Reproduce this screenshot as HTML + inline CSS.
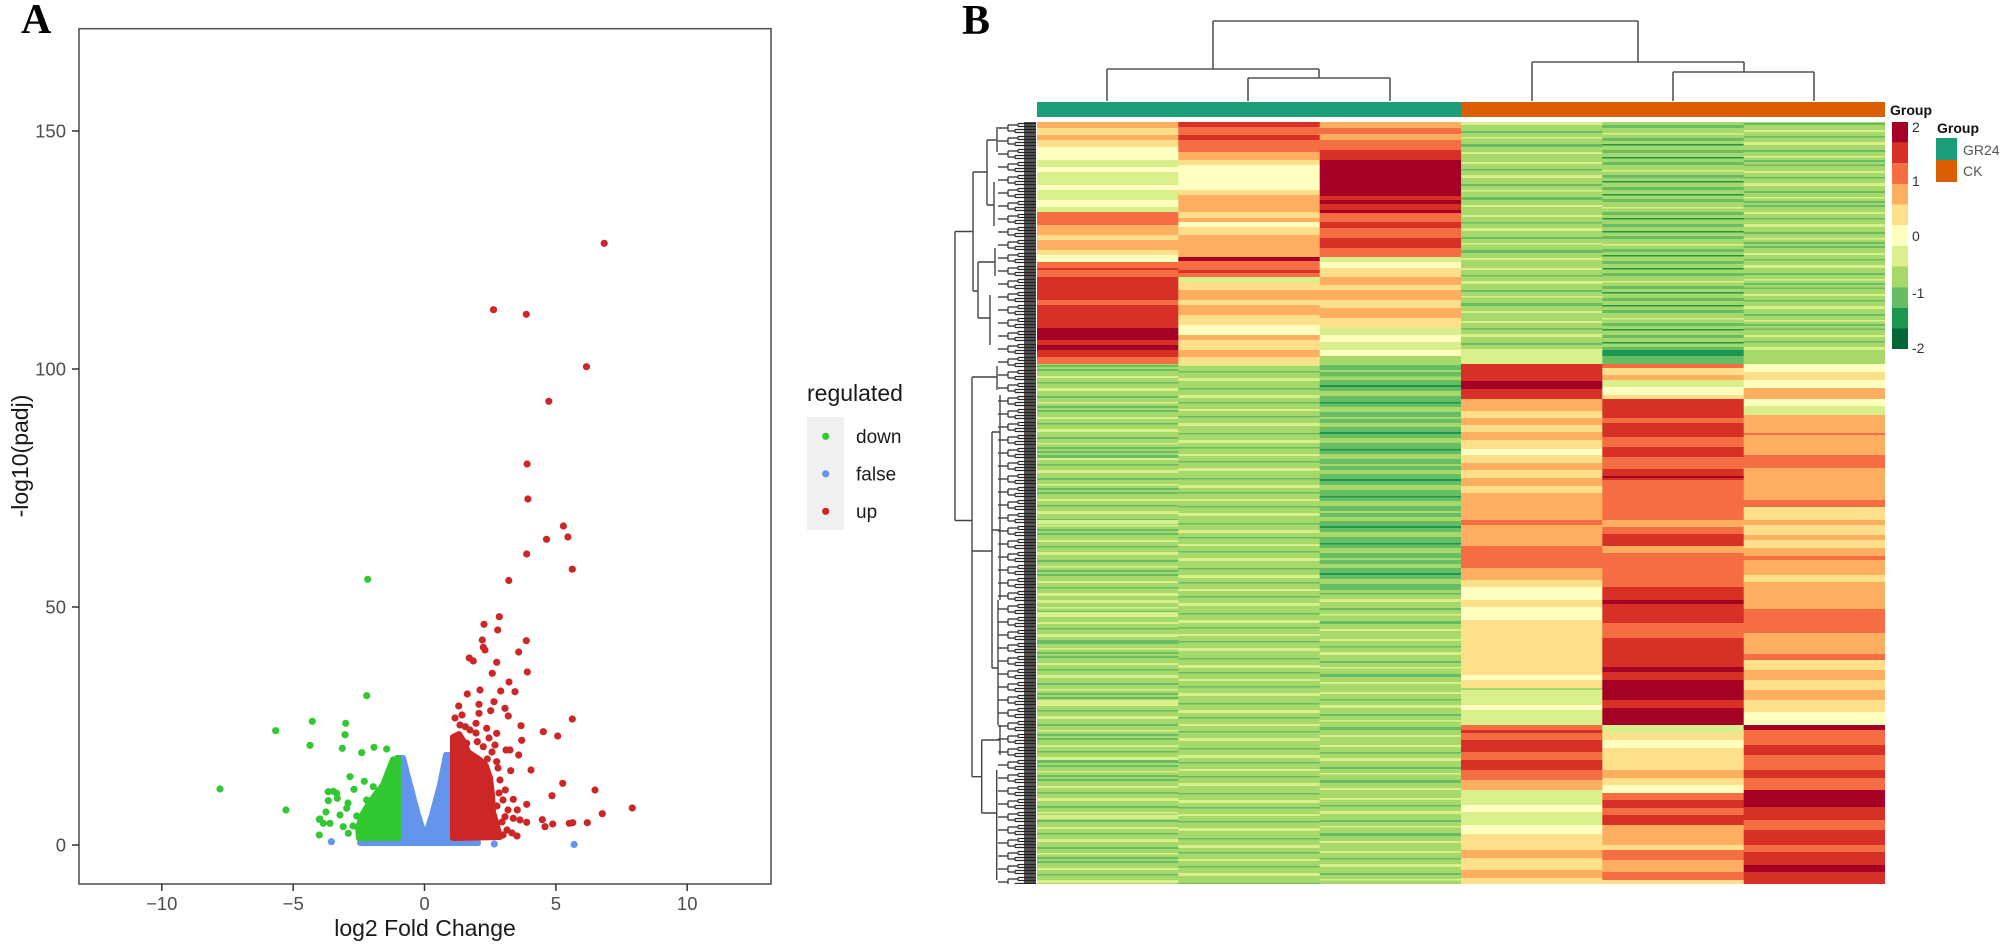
<!DOCTYPE html>
<html><head><meta charset="utf-8"><style>
html,body{margin:0;padding:0;background:#fff}
svg{display:block}
.a{fill:#A50026}.b{fill:#D73027}.c{fill:#F46D43}.d{fill:#FDAE61}.e{fill:#FEE08B}.f{fill:#FFFFBF}.g{fill:#D9EF8B}.h{fill:#A6D96A}.i{fill:#66BD63}.j{fill:#1A9850}.k{fill:#006837}
text{font-family:"Liberation Sans",Arial,sans-serif}
</style></head><body>
<svg width="2008" height="946" viewBox="0 0 2008 946" xmlns="http://www.w3.org/2000/svg">
<defs>
<pattern id="pG1" patternUnits="userSpaceOnUse" x="0" y="0" width="2008" height="41">
<rect width="2008" height="41" fill="#A6D96A"/><rect y="0" width="2008" height="2" fill="#66BD63"/><rect y="7" width="2008" height="2" fill="#D9EF8B"/><rect y="13" width="2008" height="1.5" fill="#66BD63"/><rect y="19" width="2008" height="3" fill="#D9EF8B"/><rect y="27" width="2008" height="2" fill="#66BD63"/><rect y="33" width="2008" height="1.5" fill="#D9EF8B"/><rect y="37" width="2008" height="2" fill="#66BD63"/>
</pattern>
<pattern id="pG2" patternUnits="userSpaceOnUse" x="0" y="0" width="2008" height="53">
<rect width="2008" height="53" fill="#A6D96A"/><rect y="3" width="2008" height="2" fill="#D9EF8B"/><rect y="10" width="2008" height="1.5" fill="#66BD63"/><rect y="16" width="2008" height="3" fill="#D9EF8B"/><rect y="25" width="2008" height="2" fill="#66BD63"/><rect y="31" width="2008" height="1.5" fill="#D9EF8B"/><rect y="38" width="2008" height="3" fill="#66BD63"/><rect y="46" width="2008" height="2" fill="#D9EF8B"/>
</pattern>
<pattern id="pG3" patternUnits="userSpaceOnUse" x="0" y="0" width="2008" height="47">
<rect width="2008" height="47" fill="#66BD63"/><rect y="0" width="2008" height="4" fill="#A6D96A"/><rect y="9" width="2008" height="2" fill="#1A9850"/><rect y="15" width="2008" height="5" fill="#A6D96A"/><rect y="26" width="2008" height="1.5" fill="#1A9850"/><rect y="31" width="2008" height="5" fill="#A6D96A"/><rect y="41" width="2008" height="2" fill="#A6D96A"/>
</pattern>
<pattern id="pG4" patternUnits="userSpaceOnUse" x="0" y="0" width="2008" height="37">
<rect width="2008" height="37" fill="#A6D96A"/><rect y="2" width="2008" height="3" fill="#66BD63"/><rect y="9" width="2008" height="1.5" fill="#1A9850"/><rect y="14" width="2008" height="3" fill="#66BD63"/><rect y="22" width="2008" height="1.5" fill="#D9EF8B"/><rect y="27" width="2008" height="3" fill="#66BD63"/><rect y="33" width="2008" height="1.5" fill="#1A9850"/>
</pattern>
<pattern id="pG5" patternUnits="userSpaceOnUse" x="0" y="0" width="2008" height="45">
<rect width="2008" height="45" fill="#A6D96A"/><rect y="4" width="2008" height="2" fill="#D9EF8B"/><rect y="11" width="2008" height="1.5" fill="#66BD63"/><rect y="18" width="2008" height="3" fill="#D9EF8B"/><rect y="28" width="2008" height="1.5" fill="#66BD63"/><rect y="35" width="2008" height="3" fill="#D9EF8B"/><rect y="42" width="2008" height="1.5" fill="#66BD63"/>
</pattern>
<pattern id="comb" patternUnits="userSpaceOnUse" x="998" y="122" width="38" height="13">
<path d="M20,1.5H38M20,4.5H38M17,7.5H38M17,10.5H38M20,1.5V4.5M17,7.5V10.5M10,3H20M10,9H17M10,3V9M0,6H10" stroke="#2a2a2a" stroke-width="1.2" fill="none"/>
</pattern>
</defs>

<!-- ================= PANEL A ================= -->
<text x="21" y="33" style="font-family:'Liberation Serif',serif" font-weight="bold" font-size="42" fill="#000">A</text>
<rect x="79" y="28.7" width="692" height="855.3" fill="#fff" stroke="#555" stroke-width="1.6"/>

<path d="M72,845H79M72,607H79M72,369H79M72,131H79M161.8,884V891M293.2,884V891M424.5,884V891M555.9,884V891M687.2,884V891" stroke="#333" stroke-width="1.5"/>
<g font-size="18.5" fill="#4d4d4d" text-anchor="end">
<text x="66" y="851.5">0</text><text x="66" y="613.5">50</text><text x="66" y="375.5">100</text><text x="66" y="137.5">150</text>
</g>
<g font-size="18.5" fill="#4d4d4d" text-anchor="middle">
<text x="161.8" y="910">−10</text><text x="293.2" y="910">−5</text><text x="424.5" y="910">0</text><text x="555.9" y="910">5</text><text x="687.2" y="910">10</text>
</g>
<text x="425" y="936" font-size="23" fill="#1a1a1a" text-anchor="middle">log2 Fold Change</text>
<text transform="translate(28,456) rotate(-90)" font-size="23" fill="#1a1a1a" text-anchor="middle">-log10(padj)</text>

<!-- dense regions -->
<path d="M397,758 L403,758 L410,785 L418,815 L425,837 L432,815 L440,785 L446,755 L451,755 L451,838 L477,838 L478,843 L360,843 L361,838 L397,838 Z" fill="#6495ED" stroke="#6495ED" stroke-width="6" stroke-linejoin="round"/>
<path d="M398,758 L392,762 L388,772 L383,785 L375,795 L368,805 L362,815 L358,828 L359,838 L398,838 Z" fill="#32C832" stroke="#32C832" stroke-width="6" stroke-linejoin="round"/>
<path d="M453,737 L459,734 L464,742 L468,752 L474,756 L480,760 L486,766 L490,778 L492,795 L493,812 L497,826 L500,837 L453,838 Z" fill="#CD2626" stroke="#CD2626" stroke-width="6" stroke-linejoin="round"/>

<g fill="#6495ED">
<circle cx="331.4" cy="841.7" r="3.6"/><circle cx="494.3" cy="844" r="3.6"/><circle cx="574.1" cy="844.5" r="3.6"/>
</g>
<g fill="#32C832">
<circle cx="220" cy="789" r="3.6"/><circle cx="367.7" cy="579.3" r="3.6"/><circle cx="366.7" cy="695.7" r="3.6"/>
<circle cx="275.7" cy="730.7" r="3.6"/><circle cx="312.3" cy="721.3" r="3.6"/><circle cx="310" cy="745.3" r="3.6"/>
<circle cx="345.7" cy="723.3" r="3.6"/><circle cx="345" cy="734.7" r="3.6"/><circle cx="342.3" cy="748.3" r="3.6"/>
<circle cx="361.7" cy="752.7" r="3.6"/><circle cx="374" cy="747.3" r="3.6"/><circle cx="386.7" cy="749" r="3.6"/>
<circle cx="286" cy="810" r="3.6"/><circle cx="350" cy="776.7" r="3.6"/><circle cx="364.3" cy="781.3" r="3.6"/>
<circle cx="333.3" cy="791.3" r="3.6"/><circle cx="336.7" cy="793.3" r="3.6"/><circle cx="328.3" cy="800.7" r="3.6"/>
<circle cx="337.3" cy="798.3" r="3.6"/><circle cx="346.7" cy="808.3" r="3.6"/><circle cx="354" cy="789.3" r="3.6"/>
<circle cx="356.7" cy="816" r="3.6"/><circle cx="319.3" cy="819.3" r="3.6"/><circle cx="323.3" cy="823.3" r="3.6"/>
<circle cx="330" cy="823.3" r="3.6"/><circle cx="319.3" cy="835" r="3.6"/><circle cx="343.3" cy="826.7" r="3.6"/>
<circle cx="348.3" cy="833.3" r="3.6"/><circle cx="366.7" cy="800" r="3.6"/><circle cx="373.3" cy="786.7" r="3.6"/>
<circle cx="380" cy="793.3" r="3.6"/><circle cx="370" cy="813.3" r="3.6"/><circle cx="376.7" cy="806.7" r="3.6"/>
<circle cx="386.7" cy="780" r="3.6"/><circle cx="393.3" cy="760" r="3.6"/><circle cx="390" cy="773.3" r="3.6"/>
<circle cx="328.2" cy="791.7" r="3.6"/><circle cx="348" cy="803" r="3.6"/><circle cx="320" cy="819" r="3.6"/>
<circle cx="340" cy="815" r="3.6"/><circle cx="326" cy="812" r="3.6"/><circle cx="353" cy="826" r="3.6"/>
</g>
<g fill="#CD2626">
<circle cx="604.2" cy="243.3" r="3.6"/><circle cx="493.5" cy="309.7" r="3.6"/><circle cx="526.3" cy="314.3" r="3.6"/>
<circle cx="586.5" cy="366.7" r="3.6"/><circle cx="548.8" cy="401.3" r="3.6"/><circle cx="527.1" cy="464" r="3.6"/>
<circle cx="527.9" cy="499" r="3.6"/><circle cx="563.4" cy="526" r="3.6"/><circle cx="567.9" cy="537" r="3.6"/>
<circle cx="546.5" cy="539.3" r="3.6"/><circle cx="526.7" cy="554" r="3.6"/><circle cx="572.3" cy="569.2" r="3.6"/>
<circle cx="508.8" cy="580.5" r="3.6"/><circle cx="499.3" cy="616.7" r="3.6"/><circle cx="484" cy="624.3" r="3.6"/>
<circle cx="497.7" cy="630" r="3.6"/><circle cx="482.3" cy="640" r="3.6"/><circle cx="483.3" cy="647.3" r="3.6"/>
<circle cx="485" cy="650" r="3.6"/><circle cx="526.3" cy="640.7" r="3.6"/><circle cx="518.7" cy="652" r="3.6"/>
<circle cx="469.3" cy="658" r="3.6"/><circle cx="473.3" cy="661" r="3.6"/><circle cx="496.7" cy="662.3" r="3.6"/>
<circle cx="492.3" cy="673.3" r="3.6"/><circle cx="527.3" cy="672" r="3.6"/><circle cx="509" cy="682" r="3.6"/>
<circle cx="480" cy="690" r="3.6"/><circle cx="500.7" cy="691" r="3.6"/><circle cx="515" cy="691.7" r="3.6"/>
<circle cx="467.3" cy="694" r="3.6"/><circle cx="494" cy="701.7" r="3.6"/><circle cx="479" cy="704.3" r="3.6"/>
<circle cx="458.7" cy="706" r="3.6"/><circle cx="505" cy="708.3" r="3.6"/><circle cx="479" cy="713.3" r="3.6"/>
<circle cx="490.7" cy="710.7" r="3.6"/><circle cx="508.3" cy="716" r="3.6"/><circle cx="572.3" cy="719" r="3.6"/>
<circle cx="476" cy="723.3" r="3.6"/><circle cx="465.3" cy="726.7" r="3.6"/><circle cx="486.7" cy="728.3" r="3.6"/>
<circle cx="496.7" cy="733.3" r="3.6"/><circle cx="521" cy="725.7" r="3.6"/><circle cx="543.3" cy="731.7" r="3.6"/>
<circle cx="557.7" cy="736" r="3.6"/><circle cx="521.7" cy="740.3" r="3.6"/><circle cx="477.3" cy="741.7" r="3.6"/>
<circle cx="466.7" cy="743.3" r="3.6"/><circle cx="483.3" cy="746.7" r="3.6"/><circle cx="506" cy="750" r="3.6"/>
<circle cx="510" cy="750" r="3.6"/><circle cx="518.7" cy="755" r="3.6"/><circle cx="487.3" cy="759" r="3.6"/>
<circle cx="496.7" cy="761.7" r="3.6"/><circle cx="531" cy="770" r="3.6"/><circle cx="510.7" cy="770.7" r="3.6"/>
<circle cx="562.7" cy="783.3" r="3.6"/><circle cx="595" cy="790" r="3.6"/><circle cx="505.3" cy="790" r="3.6"/>
<circle cx="552" cy="795.7" r="3.6"/><circle cx="513.3" cy="799.3" r="3.6"/><circle cx="526.7" cy="804.3" r="3.6"/>
<circle cx="517.3" cy="810" r="3.6"/><circle cx="632.3" cy="808" r="3.6"/><circle cx="602.3" cy="813.7" r="3.6"/>
<circle cx="505" cy="816.7" r="3.6"/><circle cx="513.3" cy="818.3" r="3.6"/><circle cx="520" cy="820" r="3.6"/>
<circle cx="526.7" cy="822.3" r="3.6"/><circle cx="542.3" cy="819.7" r="3.6"/><circle cx="545" cy="826.7" r="3.6"/>
<circle cx="552.7" cy="824" r="3.6"/><circle cx="569.3" cy="823.3" r="3.6"/><circle cx="572.7" cy="822.7" r="3.6"/>
<circle cx="587.3" cy="822.7" r="3.6"/><circle cx="500" cy="780" r="3.6"/><circle cx="503" cy="800" r="3.6"/>
<circle cx="498" cy="768" r="3.6"/><circle cx="507" cy="830" r="3.6"/><circle cx="512" cy="833" r="3.6"/>
<circle cx="517" cy="836" r="3.6"/><circle cx="495" cy="745" r="3.6"/><circle cx="489" cy="738" r="3.6"/>
<circle cx="470" cy="730" r="3.6"/><circle cx="460" cy="725" r="3.6"/><circle cx="455" cy="718" r="3.6"/>
<circle cx="502" cy="822" r="3.6"/><circle cx="508" cy="810" r="3.6"/><circle cx="462" cy="715" r="3.6"/>
<circle cx="499" cy="793" r="3.6"/><circle cx="497" cy="806" r="3.6"/><circle cx="503" cy="835" r="3.6"/>
<circle cx="492" cy="752" r="3.6"/><circle cx="476" cy="733" r="3.6"/>
</g>

<text x="807" y="401" font-size="23" fill="#1a1a1a">regulated</text>
<rect x="807" y="417" width="37" height="113" fill="#F0F0F0"/>
<circle cx="825.7" cy="436.3" r="3.6" fill="#32C832"/>
<circle cx="825.7" cy="473.8" r="3.6" fill="#6495ED"/>
<circle cx="825.7" cy="511.3" r="3.6" fill="#CD2626"/>
<g font-size="19" fill="#1a1a1a">
<text x="856" y="443">down</text><text x="856" y="480.5">false</text><text x="856" y="518">up</text>
</g>

<!-- ================= PANEL B ================= -->
<text x="962" y="34" style="font-family:'Liberation Serif',serif" font-weight="bold" font-size="42" fill="#000">B</text>

<path d="M1213,21H1638M1213,21V69M1638,21V62M1107,69H1319M1107,69V101M1319,69V78M1248,78H1390M1248,78V101M1390,78V101M1532,62H1744M1532,62V101M1744,62V72M1673,72H1814M1673,72V101M1814,72V101" stroke="#555" stroke-width="1.6" fill="none"/>

<rect x="1037" y="102" width="424" height="15" fill="#1B9E77"/>
<rect x="1461" y="102" width="424" height="15" fill="#D95F02"/>
<text x="1890" y="115" font-size="14" font-weight="bold" fill="#111">Group</text>

<rect x="998" y="122" width="38" height="762" fill="url(#comb)"/>
<rect x="1024" y="122" width="12" height="762" fill="#1e1e1e" opacity="0.75"/>
<path d="M955,231.5V520.5M955,231.5H973M955,520.5H972M973,172V291M973,172H987M987,140V205M987,140H997M997,127V152M987,205H994M994,182V226M973,291H978M978,262V318M978,262H995M995,248V276M978,318H990M990,295V345M972,377V776.7M972,377H997M997,366V390M972,551H992M992,432V668M992,432H1000M1000,395V470M992,530H1000M1000,470V600M992,668H998M998,600V725M972,776.7H981.7M981.7,740V813M981.7,740H1000M1000,725V755M981.7,813H996.7M996.7,770V880" stroke="#444" stroke-width="1.4" fill="none"/>

<g transform="translate(1037,0)">
<rect class="d" y="122" width="142" height="6"/><rect class="e" y="128" width="142" height="7"/><rect class="d" y="135" width="142" height="5"/><rect class="e" y="140" width="142" height="7"/><rect class="f" y="147" width="142" height="13"/><rect class="g" y="160" width="142" height="7"/><rect class="f" y="167" width="142" height="5"/><rect class="g" y="172" width="142" height="13"/><rect class="f" y="185" width="142" height="5"/><rect class="g" y="190" width="142" height="10"/><rect class="f" y="200" width="142" height="7"/><rect class="g" y="207" width="142" height="5"/><rect class="c" y="212" width="142" height="13"/><rect class="d" y="225" width="142" height="10"/><rect class="e" y="235" width="142" height="5"/><rect class="d" y="240" width="142" height="10"/><rect class="e" y="250" width="142" height="5"/><rect class="f" y="255" width="142" height="7"/><rect class="c" y="262" width="142" height="6"/><rect class="b" y="268" width="142" height="2"/><rect class="c" y="270" width="142" height="7"/><rect class="b" y="277" width="142" height="23"/><rect class="c" y="300" width="142" height="5"/><rect class="b" y="305" width="142" height="23"/><rect class="a" y="328" width="142" height="12"/><rect class="b" y="340" width="142" height="5"/><rect class="a" y="345" width="142" height="5"/><rect class="b" y="350" width="142" height="7"/><rect class="c" y="357" width="142" height="7"/>
<rect y="364" width="142" height="520" fill="url(#pG1)"/>
<rect class="i" y="455" width="142" height="3"/><rect class="g" y="520" width="142" height="4"/><rect class="g" y="600" width="142" height="3"/><rect class="g" y="612" width="142" height="5"/><rect class="i" y="640" width="142" height="2"/><rect class="g" y="700" width="142" height="4"/><rect class="i" y="760" width="142" height="3"/><rect class="g" y="815" width="142" height="4"/>
</g>
<g transform="translate(1178.3,0)">
<rect class="b" y="122" width="142" height="5"/><rect class="c" y="127" width="142" height="8"/><rect class="b" y="135" width="142" height="5"/><rect class="c" y="140" width="142" height="12"/><rect class="d" y="152" width="142" height="8"/><rect class="e" y="160" width="142" height="5"/><rect class="f" y="165" width="142" height="25"/><rect class="e" y="190" width="142" height="5"/><rect class="d" y="195" width="142" height="17"/><rect class="e" y="212" width="142" height="6"/><rect class="d" y="218" width="142" height="4"/><rect class="f" y="222" width="142" height="5"/><rect class="e" y="227" width="142" height="8"/><rect class="d" y="235" width="142" height="22"/><rect class="a" y="257" width="142" height="4"/><rect class="c" y="261" width="142" height="9"/><rect class="b" y="270" width="142" height="3"/><rect class="c" y="273" width="142" height="4"/><rect class="g" y="277" width="142" height="5"/><rect class="e" y="282" width="142" height="8"/><rect class="d" y="290" width="142" height="10"/><rect class="e" y="300" width="142" height="5"/><rect class="d" y="305" width="142" height="10"/><rect class="e" y="315" width="142" height="10"/><rect class="f" y="325" width="142" height="10"/><rect class="d" y="335" width="142" height="5"/><rect class="e" y="340" width="142" height="10"/><rect class="d" y="350" width="142" height="7"/><rect class="e" y="357" width="142" height="7"/>
<rect y="364" width="142" height="520" fill="url(#pG5)"/>
</g>
<g transform="translate(1319.7,0)">
<rect class="d" y="122" width="142" height="6"/><rect class="c" y="128" width="142" height="6"/><rect class="d" y="134" width="142" height="6"/><rect class="c" y="140" width="142" height="10"/><rect class="b" y="150" width="142" height="10"/><rect class="a" y="160" width="142" height="36"/><rect class="b" y="196" width="142" height="4"/><rect class="a" y="200" width="142" height="4"/><rect class="b" y="204" width="142" height="6"/><rect class="a" y="210" width="142" height="3"/><rect class="c" y="213" width="142" height="9"/><rect class="b" y="222" width="142" height="6"/><rect class="c" y="228" width="142" height="10"/><rect class="b" y="238" width="142" height="10"/><rect class="c" y="248" width="142" height="9"/><rect class="g" y="257" width="142" height="5"/><rect class="f" y="262" width="142" height="6"/><rect class="e" y="268" width="142" height="9"/><rect class="d" y="277" width="142" height="8"/><rect class="e" y="285" width="142" height="5"/><rect class="d" y="290" width="142" height="10"/><rect class="e" y="300" width="142" height="8"/><rect class="d" y="308" width="142" height="10"/><rect class="e" y="318" width="142" height="10"/><rect class="g" y="328" width="142" height="7"/><rect class="f" y="335" width="142" height="7"/><rect class="g" y="342" width="142" height="8"/><rect class="f" y="350" width="142" height="6"/><rect class="h" y="356" width="142" height="8"/>
<rect y="364" width="142" height="226" fill="url(#pG3)"/>
<rect y="590" width="142" height="294" fill="url(#pG2)"/>
</g>
<g transform="translate(1461,0)">
<rect y="122" width="142" height="228" fill="url(#pG2)"/>
<rect class="g" y="350" width="142" height="14"/><rect class="b" y="364" width="142" height="17"/><rect class="a" y="381" width="142" height="8"/><rect class="b" y="389" width="142" height="10"/><rect class="d" y="399" width="142" height="12"/><rect class="e" y="411" width="142" height="7"/><rect class="d" y="418" width="142" height="7"/><rect class="e" y="425" width="142" height="7"/><rect class="d" y="432" width="142" height="8"/><rect class="e" y="440" width="142" height="9"/><rect class="f" y="449" width="142" height="6"/><rect class="e" y="455" width="142" height="8"/><rect class="d" y="463" width="142" height="7"/><rect class="e" y="470" width="142" height="8"/><rect class="d" y="478" width="142" height="8"/><rect class="e" y="486" width="142" height="7"/><rect class="d" y="493" width="142" height="27"/><rect class="c" y="520" width="142" height="5"/><rect class="d" y="525" width="142" height="21"/><rect class="c" y="546" width="142" height="22"/><rect class="d" y="568" width="142" height="12"/><rect class="e" y="580" width="142" height="7"/><rect class="f" y="587" width="142" height="13"/><rect class="e" y="600" width="142" height="7"/><rect class="f" y="607" width="142" height="13"/><rect class="e" y="620" width="142" height="55"/><rect class="f" y="675" width="142" height="5"/><rect class="e" y="680" width="142" height="8"/><rect class="h" y="688" width="142" height="2"/><rect class="g" y="690" width="142" height="15"/><rect class="f" y="705" width="142" height="5"/><rect class="g" y="710" width="142" height="15"/><rect class="c" y="725" width="142" height="5"/><rect class="b" y="730" width="142" height="3"/><rect class="c" y="733" width="142" height="7"/><rect class="b" y="740" width="142" height="12"/><rect class="c" y="752" width="142" height="8"/><rect class="b" y="760" width="142" height="10"/><rect class="c" y="770" width="142" height="10"/><rect class="d" y="780" width="142" height="10"/><rect class="g" y="790" width="142" height="15"/><rect class="f" y="805" width="142" height="7"/><rect class="g" y="812" width="142" height="13"/><rect class="f" y="825" width="142" height="9"/><rect class="e" y="834" width="142" height="16"/><rect class="d" y="850" width="142" height="8"/><rect class="e" y="858" width="142" height="12"/><rect class="d" y="870" width="142" height="8"/><rect class="e" y="878" width="142" height="6"/>
</g>
<g transform="translate(1602.3,0)">
<rect y="122" width="142" height="228" fill="url(#pG4)"/>
<rect class="j" y="350" width="142" height="6"/><rect class="i" y="356" width="142" height="8"/><rect class="c" y="364" width="142" height="4"/><rect class="e" y="368" width="142" height="7"/><rect class="d" y="375" width="142" height="5"/><rect class="g" y="380" width="142" height="7"/><rect class="f" y="387" width="142" height="8"/><rect class="e" y="395" width="142" height="4"/><rect class="b" y="399" width="142" height="19"/><rect class="c" y="418" width="142" height="5"/><rect class="b" y="423" width="142" height="14"/><rect class="c" y="437" width="142" height="10"/><rect class="b" y="447" width="142" height="10"/><rect class="c" y="457" width="142" height="12"/><rect class="b" y="469" width="142" height="7"/><rect class="a" y="476" width="142" height="2"/><rect class="b" y="478" width="142" height="2"/><rect class="c" y="480" width="142" height="40"/><rect class="d" y="520" width="142" height="7"/><rect class="c" y="527" width="142" height="7"/><rect class="b" y="534" width="142" height="12"/><rect class="d" y="546" width="142" height="7"/><rect class="c" y="553" width="142" height="34"/><rect class="b" y="587" width="142" height="13"/><rect class="a" y="600" width="142" height="4"/><rect class="b" y="604" width="142" height="19"/><rect class="c" y="623" width="142" height="15"/><rect class="b" y="638" width="142" height="29"/><rect class="a" y="667" width="142" height="5"/><rect class="b" y="672" width="142" height="8"/><rect class="a" y="680" width="142" height="20"/><rect class="b" y="700" width="142" height="8"/><rect class="a" y="708" width="142" height="17"/><rect class="g" y="725" width="142" height="8"/><rect class="e" y="733" width="142" height="7"/><rect class="f" y="740" width="142" height="8"/><rect class="e" y="748" width="142" height="22"/><rect class="d" y="770" width="142" height="8"/><rect class="e" y="778" width="142" height="7"/><rect class="f" y="785" width="142" height="8"/><rect class="c" y="793" width="142" height="7"/><rect class="b" y="800" width="142" height="8"/><rect class="c" y="808" width="142" height="7"/><rect class="b" y="815" width="142" height="10"/><rect class="d" y="825" width="142" height="20"/><rect class="e" y="845" width="142" height="5"/><rect class="c" y="850" width="142" height="10"/><rect class="d" y="860" width="142" height="12"/><rect class="c" y="872" width="142" height="8"/><rect class="e" y="880" width="142" height="4"/>
</g>
<g transform="translate(1743.7,0)">
<rect y="122" width="141.3" height="228" fill="url(#pG1)"/>
<rect class="h" y="350" width="141.3" height="14"/><rect class="f" y="364" width="141.3" height="8"/><rect class="e" y="372" width="141.3" height="8"/><rect class="f" y="380" width="141.3" height="8"/><rect class="d" y="388" width="141.3" height="11"/><rect class="f" y="399" width="141.3" height="7"/><rect class="g" y="406" width="141.3" height="9"/><rect class="d" y="415" width="141.3" height="18"/><rect class="c" y="433" width="141.3" height="2"/><rect class="d" y="435" width="141.3" height="20"/><rect class="c" y="455" width="141.3" height="13"/><rect class="d" y="468" width="141.3" height="32"/><rect class="c" y="500" width="141.3" height="7"/><rect class="e" y="507" width="141.3" height="13"/><rect class="d" y="520" width="141.3" height="5"/><rect class="e" y="525" width="141.3" height="10"/><rect class="d" y="535" width="141.3" height="5"/><rect class="e" y="540" width="141.3" height="8"/><rect class="d" y="548" width="141.3" height="8"/><rect class="c" y="556" width="141.3" height="4"/><rect class="d" y="560" width="141.3" height="15"/><rect class="e" y="575" width="141.3" height="7"/><rect class="d" y="582" width="141.3" height="27"/><rect class="c" y="609" width="141.3" height="24"/><rect class="d" y="633" width="141.3" height="21"/><rect class="c" y="654" width="141.3" height="6"/><rect class="e" y="660" width="141.3" height="10"/><rect class="d" y="670" width="141.3" height="10"/><rect class="e" y="680" width="141.3" height="10"/><rect class="d" y="690" width="141.3" height="10"/><rect class="e" y="700" width="141.3" height="12"/><rect class="f" y="712" width="141.3" height="13"/><rect class="a" y="725" width="141.3" height="5"/><rect class="c" y="730" width="141.3" height="15"/><rect class="b" y="745" width="141.3" height="10"/><rect class="c" y="755" width="141.3" height="15"/><rect class="b" y="770" width="141.3" height="8"/><rect class="c" y="778" width="141.3" height="12"/><rect class="a" y="790" width="141.3" height="17"/><rect class="b" y="807" width="141.3" height="13"/><rect class="c" y="820" width="141.3" height="10"/><rect class="b" y="830" width="141.3" height="15"/><rect class="c" y="845" width="141.3" height="7"/><rect class="b" y="852" width="141.3" height="13"/><rect class="a" y="865" width="141.3" height="7"/><rect class="b" y="872" width="141.3" height="12"/>
</g>

<g>
<rect class="a" x="1892" y="122" width="16" height="20.7"/><rect class="b" x="1892" y="142.6" width="16" height="20.7"/><rect class="c" x="1892" y="163.3" width="16" height="20.7"/><rect class="d" x="1892" y="183.9" width="16" height="20.7"/><rect class="e" x="1892" y="204.6" width="16" height="20.7"/><rect class="f" x="1892" y="225.2" width="16" height="20.7"/><rect class="g" x="1892" y="245.9" width="16" height="20.7"/><rect class="h" x="1892" y="266.5" width="16" height="20.7"/><rect class="i" x="1892" y="287.2" width="16" height="20.7"/><rect class="j" x="1892" y="307.8" width="16" height="20.7"/><rect class="k" x="1892" y="328.5" width="16" height="20.5"/>
</g>
<g font-size="14" fill="#333">
<text x="1912" y="132">2</text><text x="1912" y="186">1</text><text x="1912" y="241">0</text><text x="1912" y="298">-1</text><text x="1912" y="353">-2</text>
</g>
<text x="1937" y="133" font-size="14" font-weight="bold" fill="#111">Group</text>
<rect x="1936" y="138" width="21" height="22" fill="#1B9E77"/>
<rect x="1936" y="160" width="21" height="22" fill="#D95F02"/>
<g font-size="14" fill="#555">
<text x="1963" y="155">GR24</text><text x="1963" y="176">CK</text>
</g>
</svg>
</body></html>
